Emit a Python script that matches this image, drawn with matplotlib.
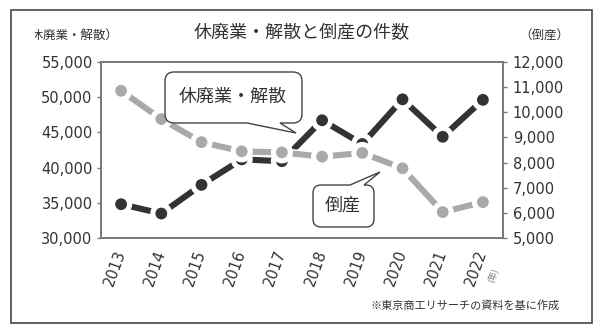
import matplotlib
matplotlib.use("Agg")
import matplotlib.pyplot as plt
import matplotlib.patheffects as pe
from matplotlib.path import Path
from matplotlib.patches import PathPatch, Rectangle
from matplotlib.transforms import Affine2D, Bbox, TransformedBbox
from matplotlib.ticker import FuncFormatter

years = ["2013", "2014", "2015", "2016", "2017", "2018", "2019", "2020", "2021", "2022"]
closures = [34800, 33475, 37548, 41162, 40909, 46724, 43348, 49698, 44377, 49625]
bankruptcies = [10855, 9731, 8812, 8446, 8405, 8235, 8383, 7773, 6030, 6428]
left_ticks = [30000, 35000, 40000, 45000, 50000, 55000]
right_ticks = [5000, 6000, 7000, 8000, 9000, 10000, 11000, 12000]

JP = ["Noto Sans CJK JP", "DejaVu Sans"]
NUM = ["DejaVu Sans"]
DARK = "#333333"
GRAY = "#a9a9a9"
SPINE = "#777777"

W, H = 600, 332
fig = plt.figure(figsize=(W / 100, H / 100), dpi=100)
px = Affine2D().scale(1 / W, -1 / H).translate(0, 1) + fig.transFigure

ax = fig.add_axes([101 / W, 1 - 238 / H, 402 / W, 176 / H])
ax2 = ax.twinx()
x = list(range(len(years)))

stroke = [pe.Stroke(linewidth=6.4, foreground="white"), pe.Normal()]
ax.plot(x, closures, color=DARK, lw=4.4, marker="o", ms=9.5,
        mfc=DARK, mec="white", mew=1.0, solid_capstyle="round", path_effects=stroke)
ax2.plot(x, bankruptcies, color=GRAY, lw=4.4, marker="o", ms=9.5,
         mfc=GRAY, mec="white", mew=1.0, solid_capstyle="round", path_effects=stroke)

ax.set_xlim(-0.5, len(years) - 0.5)
ax.set_ylim(left_ticks[0], left_ticks[-1])
ax2.set_ylim(right_ticks[0], right_ticks[-1])
ax.set_yticks(left_ticks)
ax2.set_yticks(right_ticks)
fmt = FuncFormatter(lambda v, p: f"{int(v):,}")
ax.yaxis.set_major_formatter(fmt)
ax2.yaxis.set_major_formatter(fmt)
ax.set_xticks(x)
ax.set_xticklabels(years, rotation=70, ha="right", va="center",
                   rotation_mode="anchor", fontsize=10.5, color=DARK, family=NUM)
ax.tick_params(axis="x", length=0, pad=9)
ax.tick_params(axis="y", length=3, width=1, color=SPINE, pad=3,
               labelsize=10.5, labelcolor=DARK)
ax2.tick_params(axis="y", length=3, width=1, color=SPINE, pad=4,
                labelsize=10.5, labelcolor=DARK)
for a in (ax, ax2):
    for s in a.spines.values():
        s.set_color(SPINE)
        s.set_linewidth(1.2)

# outer frame
fig.patches.append(Rectangle((11, 10), 581, 313, transform=px, fill=False,
                             edgecolor="#555555", lw=1.3, zorder=0))

# titles / labels
fig.text(302 / W, 1 - 33 / H, "休廃業・解散と倒産の件数", ha="center", va="center",
         fontsize=13, color=DARK, family=JP)
t = fig.text(18.5 / W, 1 - 35 / H, "（休廃業・解散）", ha="left", va="center",
             fontsize=9, color=DARK, family=JP)
t.set_clip_box(TransformedBbox(Bbox.from_extents(35 / W, 0, 1, 1), fig.transFigure))
t.set_clip_on(True)
fig.text(544 / W, 1 - 35 / H, "（倒産）", ha="center", va="center",
         fontsize=9, color=DARK, family=JP)
fig.text(493 / W, 1 - 275 / H, "(年)", ha="center", va="center", rotation=70,
         fontsize=6.5, color="#777777", family=JP)
fig.text(560 / W, 1 - 305 / H, "※東京商工リサーチの資料を基に作成", ha="right",
         va="center", fontsize=8, color=DARK, family=JP)


def callout(x0, y0, x1, y1, r, side, xa, xb, tip):
    k = Path.CURVE3
    verts, codes = [], []

    def add(p, c):
        verts.append(p)
        codes.append(c)

    add((x0 + r, y0), Path.MOVETO)
    if side == "top":
        add((xa, y0), Path.LINETO)
        add(tip, Path.LINETO)
        add((xb, y0), Path.LINETO)
    add((x1 - r, y0), Path.LINETO)
    add((x1, y0), k); add((x1, y0 + r), k)
    add((x1, y1 - r), Path.LINETO)
    add((x1, y1), k); add((x1 - r, y1), k)
    if side == "bottom":
        add((xb, y1), Path.LINETO)
        add(tip, Path.LINETO)
        add((xa, y1), Path.LINETO)
    add((x0 + r, y1), Path.LINETO)
    add((x0, y1), k); add((x0, y1 - r), k)
    add((x0, y0 + r), Path.LINETO)
    add((x0, y0), k); add((x0 + r, y0), k)
    add((x0 + r, y0), Path.CLOSEPOLY)
    fig.patches.append(PathPatch(Path(verts, codes), transform=px, facecolor="white",
                                 edgecolor="#444444", lw=1.0, zorder=5))


callout(165, 72, 302, 123, 9, "bottom", 247, 280, (296, 133))
fig.text(233 / W, 1 - 97 / H, "休廃業・解散", ha="center", va="center",
         fontsize=13, color=DARK, family=JP, zorder=6)
callout(313, 185, 374, 227, 8, "top", 350, 364, (380, 172))
fig.text(343 / W, 1 - 206 / H, "倒産", ha="center", va="center",
         fontsize=13, color=DARK, family=JP, zorder=6)

fig.savefig("out.png", dpi=100)
